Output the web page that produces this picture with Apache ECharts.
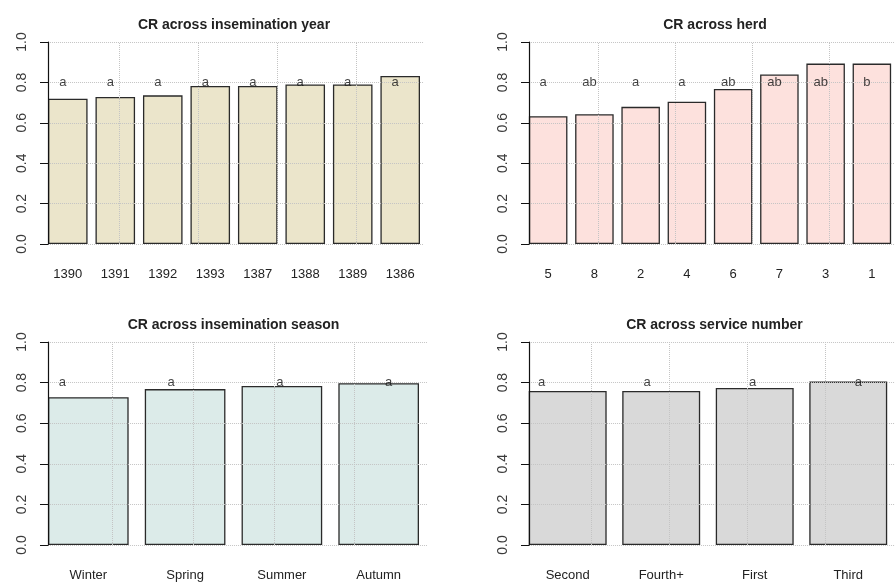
<!DOCTYPE html>
<html>
<head>
<meta charset="utf-8">
<script src="https://cdn.jsdelivr.net/npm/echarts@6/dist/echarts.min.js"></script>
<style>
  html, body { margin: 0; padding: 0; background: #fff; }
  #chart { width: 895px; height: 582px; }
</style>
</head>
<body>
<div id="chart"></div>
<script>
// conception rate per group
const yearCats = ["1390", "1391", "1392", "1393", "1387", "1388", "1389", "1386"];
const yearCR = [0.719, 0.728, 0.736, 0.782, 0.782, 0.790, 0.790, 0.832];
const yearLetters = ["a", "a", "a", "a", "a", "a", "a", "a"];

const herdCats = ["5", "8", "2", "4", "6", "7", "3", "1"];
const herdCR = [0.633, 0.642, 0.679, 0.704, 0.767, 0.839, 0.893, 0.893];
const herdLetters = ["a", "ab", "a", "a", "ab", "ab", "ab", "b"];

const seasonCats = ["Winter", "Spring", "Summer", "Autumn"];
const seasonCR = [0.728, 0.768, 0.783, 0.797];
const seasonLetters = ["a", "a", "a", "a"];

const serviceCats = ["Second", "Fourth+", "First", "Third"];
const serviceCR = [0.759, 0.759, 0.774, 0.805];
const serviceLetters = ["a", "a", "a", "a"];

const letterLevel = 0.8; // letters are written along the 0.8 line

// panel layout (plot region of each small barplot)
const panels = [
  { title: "CR across insemination year", cats: yearCats, vals: yearCR, letters: yearLetters,
    fill: "#ebe5cb", left: 48, right: 420, top: 42, bottom: 244 },
  { title: "CR across herd", cats: herdCats, vals: herdCR, letters: herdLetters,
    fill: "#fde1dd", left: 529, right: 901, top: 42, bottom: 244 },
  { title: "CR across insemination season", cats: seasonCats, vals: seasonCR, letters: seasonLetters,
    fill: "#dcebe9", left: 48, right: 419, top: 342, bottom: 545 },
  { title: "CR across service number", cats: serviceCats, vals: serviceCR, letters: serviceLetters,
    fill: "#d9d9d9", left: 529, right: 900, top: 342, bottom: 545 }
];

const font = "'Liberation Sans', Arial, sans-serif";
const gridColor = "#c4c4c4";

var myChart = echarts.init(document.getElementById("chart"));

let grid = [], xAxis = [], yAxis = [], series = [], graphic = [];

panels.forEach((p, k) => {
  const n = p.cats.length;
  // bar width u, space 0.2u (like barplot)
  const u = (p.right - p.left) / (n + 0.2 * (n - 1));
  const gl = p.left - 0.1 * u;
  grid.push({ left: gl, top: p.top, width: n * 1.2 * u, height: p.bottom - p.top, containLabel: false });

  // category axis for the bars
  xAxis.push({
    type: "category", gridIndex: k, data: p.cats,
    axisLine: { show: false }, axisTick: { show: false },
    axisLabel: { fontFamily: font, fontSize: 13, color: "#222", margin: n > 4 ? 24 : 24 }
  });
  // hidden value axis in barplot units, used for the vertical grid lines
  xAxis.push({
    type: "value", gridIndex: k, show: false,
    min: 0.1, max: 0.1 + n * 1.2
  });

  yAxis.push({
    type: "value", gridIndex: k, min: 0, max: 1, interval: 0.2,
    offset: -0.1 * u, z: 3,
    axisLine: { show: true, lineStyle: { color: "#111", width: 1.2 } },
    axisTick: { show: true, length: 8, lineStyle: { color: "#111" } },
    axisLabel: {
      rotate: 90, margin: 19, fontFamily: font, fontSize: 14, color: "#3a3a3a",
      formatter: v => v.toFixed(1)
    },
    splitLine: { show: true, lineStyle: { type: "dotted", color: gridColor, width: 1 } }
  });

  series.push({
    type: "bar", xAxisIndex: 2 * k, yAxisIndex: k,
    data: p.vals, barCategoryGap: "16.67%",
    itemStyle: { color: p.fill, borderColor: "#2a2a2a", borderWidth: 1.3 },
    silent: true
  });

  // vertical grid lines at the default axis ticks
  const step = n > 4 ? 2 : 1;
  const vLines = [];
  for (let x = step; x < 0.1 + n * 1.2; x += step) vLines.push({ xAxis: x });
  series.push({
    type: "line", xAxisIndex: 2 * k + 1, yAxisIndex: k, data: [],
    markLine: {
      silent: true, symbol: "none", label: { show: false }, z: 4,
      lineStyle: { type: "dotted", color: gridColor, width: 1 },
      data: vLines
    }
  });

  // significance letters
  series.push({
    type: "scatter", xAxisIndex: 2 * k, yAxisIndex: k, z: 5,
    symbolSize: 0, silent: true,
    data: p.letters.map(() => letterLevel),
    label: {
      show: true, position: "inside", fontFamily: font, fontSize: 13, color: "#111",
      formatter: d => p.letters[d.dataIndex],
      offset: [-5, 0]
    }
  });
  if (n == 4) {
    // letters on the 4-bar plots drift from left to right of bar centres
    series[series.length - 1].data = p.letters.map((l, i) => ({
      value: letterLevel, label: { offset: [-26 + 12 * i, 0] }
    }));
  }

  graphic.push({
    type: "text", x: (p.left + p.right) / 2, y: p.top - 17,
    style: {
      text: p.title, font: "bold 14px " + font, fill: "#222",
      textAlign: "center", textVerticalAlign: "middle"
    }
  });
});

let option = {
  backgroundColor: "#fff",
  animation: false,
  grid: grid,
  xAxis: xAxis,
  yAxis: yAxis,
  series: series,
  graphic: graphic
};
myChart.setOption(option, true);
</script>
</body>
</html>
